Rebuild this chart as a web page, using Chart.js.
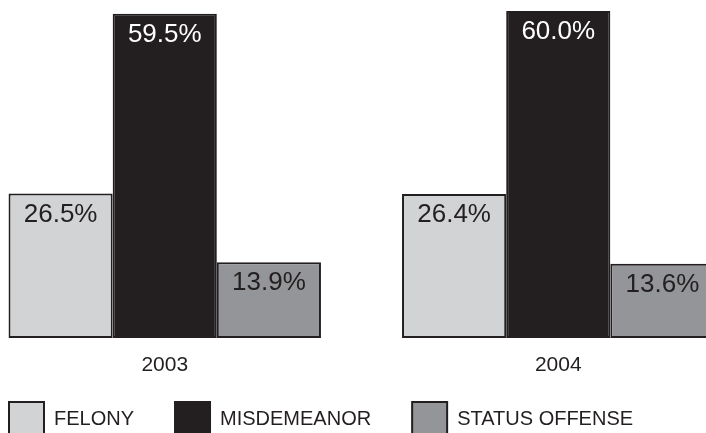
<!DOCTYPE html>
<html>
<head>
<meta charset="utf-8">
<script src="https://cdn.jsdelivr.net/npm/chart.js@4"></script>
<style>
  html, body { margin: 0; padding: 0; background: #ffffff; overflow: hidden; width: 706px; height: 433px; }
  #wrap { position: absolute; left: -32px; top: 0; width: 787px; height: 447px; }
</style>
</head>
<body>
<div id="wrap"><canvas id="c"></canvas></div>
<script>
const years = ['2003', '2004'];
const seriesNames = ['FELONY', 'MISDEMEANOR', 'STATUS OFFENSE'];
const felony = [26.5, 26.4];
const misdemeanor = [59.5, 60.0];
const statusOffense = [13.9, 13.6];
const fillColors = ['#d1d3d4', '#231f20', '#939598'];
const labelColors = ['#231f20', '#ffffff', '#231f20'];
const ink = '#231f20';
const FONT = '"Liberation Sans", Arial, Helvetica, sans-serif';

const valueLabels = {
  id: 'valueLabels',
  afterDatasetsDraw(chart) {
    const ctx = chart.ctx;
    ctx.save();
    ctx.font = '26px ' + FONT;
    ctx.textAlign = 'center';
    ctx.textBaseline = 'alphabetic';
    chart.data.datasets.forEach((ds, di) => {
      const meta = chart.getDatasetMeta(di);
      meta.data.forEach((bar, i) => {
        ctx.fillStyle = labelColors[di];
        ctx.fillText(ds.data[i].toFixed(1) + '%', bar.x, bar.y + 28);
      });
    });
    ctx.restore();
  }
};

const seriesData = [felony, misdemeanor, statusOffense];
new Chart(document.getElementById('c'), {
  type: 'bar',
  data: {
    labels: years,
    datasets: seriesNames.map((name, k) => ({
      label: name,
      data: seriesData[k],
      backgroundColor: fillColors[k],
      borderColor: ink,
      borderWidth: 2,
      borderSkipped: false,
      categoryPercentage: 0.794,
      barPercentage: 1.0
    }))
  },
  options: {
    responsive: true,
    maintainAspectRatio: false,
    animation: false,
    layout: { padding: 0 },
    plugins: {
      tooltip: { enabled: false },
      legend: {
        position: 'bottom',
        align: 'start',
        labels: {
          boxWidth: 35,
          boxHeight: 35,
          padding: 41,
          color: ink,
          font: { family: FONT, size: 20 }
        }
      }
    },
    scales: {
      x: {
        grid: { display: false, drawTicks: false },
        border: { display: false },
        ticks: { color: ink, mirror: true, padding: -40, font: { family: FONT, size: 21 } },
        afterFit(scale) { scale.height = 23; }
      },
      y: {
        display: false,
        min: 0,
        max: 62
      }
    }
  },
  plugins: [valueLabels]
});
</script>
</body>
</html>
